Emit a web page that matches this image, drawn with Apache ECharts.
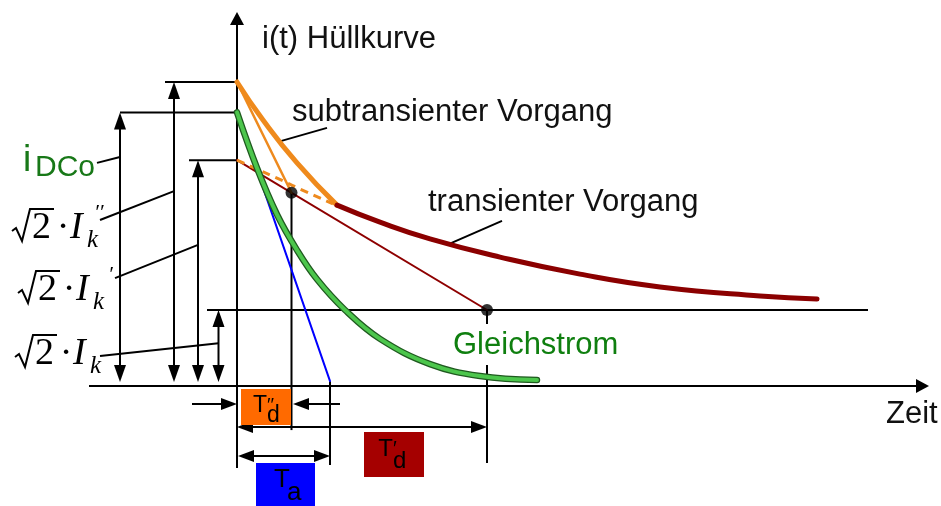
<!DOCTYPE html>
<html>
<head>
<meta charset="utf-8">
<script src="https://cdn.jsdelivr.net/npm/echarts@6/dist/echarts.min.js"></script>
<style>
  html, body { margin: 0; padding: 0; background: #fff; }
  #chart { width: 941px; height: 506px; }
</style>
</head>
<body>
<div id="chart"></div>
<script>
// Envelope of a short-circuit current: subtransient, transient and DC parts.

// ---- values (time and current in arbitrary units) ----
const levelSub = 100;     // √2·I''k
const levelDC = 90;       // iDCo
const levelTrans = 74.3;  // √2·I'k
const levelSteady = 25;   // √2·Ik

const tSub = 5.45;        // T''d
const tDC = 9.3;          // Ta
const tTrans = 25;        // T'd

// subtransient envelope until it merges into the transient one
const subT = [0, 2.6, 6.0, 10.0];
const subI = [100, 87.5, 73.4, 59.5];
// transient envelope
const transT = [10.0, 14.3, 19.3, 26.3, 34.3, 42.3, 52.3, 58.0];
const transI = [59.5, 53.9, 48.4, 42.4, 36.8, 32.6, 29.6, 28.6];
// transient envelope traced back to t = 0
const backT = [0, 4.0, 6.3, 9.6];
const backI = [74.3, 68.4, 64.8, 59.9];
// decaying DC component
const dcT = [0, 2.0, 4.0, 6.0, 8.0, 10.8, 14.3, 19.3, 24.3, 30.0];
const dcI = [90, 71.7, 56.4, 44.7, 35.1, 25.0, 15.5, 7.2, 3.3, 2.0];
const dcTangentEnd = 1.6;

// ---- texts ----
const captionTexts = ['i(t) Hüllkurve', 'subtransienter Vorgang', 'transienter Vorgang', 'Gleichstrom', 'Zeit'];
const boxMain = ['T', 'T', 'T'];
const boxSup = ['′′', '', '′'];
const boxSub = ['d', 'a', 'd'];
const mathPrimes = ['′′', '′', ''];

// ---- frame: pixel position of the origin and pixels per unit ----
const W = 941, H = 506;
const OX = 237, OY = 386, PX_T = 10, PX_I = 3.04;

// ---- diagram geometry in data units ----
const foot = 1.3;                                  // arrow tips just above the time axis
const dotI = levelTrans - (levelTrans - levelSteady) * tSub / tTrans;
const axisArrows = [[0, -27, 0, 123, 1], [-14.8, 0, 69.2, 0, 1]];
const levelArrows = [
  [-11.7, foot, -11.7, levelDC, 2],
  [-6.3, foot, -6.3, levelSub, 2],
  [-3.9, foot, -3.9, levelTrans, 2],
  [-1.85, foot, -1.85, levelSteady, 2]
];
const spanArrows = [
  [-4.5, -5.9, 0, -5.9, 1],
  [10.3, -5.9, tSub + 0.15, -5.9, 1],
  [0, -13.5, tTrans, -13.5, 2],
  [0.1, -23, tDC, -23, 2]
];
const blackLines = [
  [-7.2, levelSub, 0, levelSub],
  [-11.7, levelDC, 0, levelDC],
  [-4.8, levelTrans, 0, levelTrans],
  [-3.0, levelSteady, 63.1, levelSteady],
  [-14.0, 73.4, -11.7, 75.3],
  [-13.7, 54.6, -6.3, 64.1],
  [-12.2, 35.5, -3.9, 46.4],
  [-13.7, 9.9, -1.85, 14.1],
  [4.1, 80.3, 9.0, 84.9],
  [21.0, 46.4, 26.5, 54.3],
  [tSub, dotI, tSub, -14.5],
  [tDC, dcTangentEnd, tDC, -26],
  [tTrans, levelSteady, tTrans, 20.4],
  [tTrans, 6.9, tTrans, -25.3]
];
const boxes = [
  [0.4, -1.0, 5.4, -12.8],
  [1.9, -25.3, 7.8, -40.8],
  [12.7, -15.1, 18.7, -29.9]
];
const boxColors = ['#ff6a00', '#0000ff', '#a50000'];
// per box: font size, T right edge dx, T dy, script dx, sub dy, sup dy
const boxTextLayout = [
  [23, 1, -1.5, 1, 9, -11],
  [26, 4.5, -7, 1.5, 6, -14],
  [24, -1, -5, -1, 7, -15]
];
const captionAnchors = [[2.5, 114.1], [5.5, 90.1], [19.1, 60.5], [21.6, 13.3], [64.9, -9.2]];
const captionColors = ['#111', '#111', '#111', '#0f7f0f', '#111'];
const mathAnchors = [[-22.5, 47.7], [-21.9, 27.3], [-22.2, 6.25]];
const mathPrimeDx = [82, 90, 0];
const dcoAnchor = [[-21.4, 70.1]];

const SANS = '"Liberation Sans", Arial, Helvetica, sans-serif';
const SERIF = '"Liberation Serif", "Times New Roman", "DejaVu Serif", serif';

function zip(a, b) { return a.map((v, k) => [v, b[k]]); }

// text whose alphabetic baseline sits at y
function textAt(x, baseline, str, font, size, color, align) {
  return {
    type: 'text', x: x, y: baseline - 0.34 * size,
    style: {
      text: str, fill: color, font: font,
      align: align || 'left', verticalAlign: 'middle',
      textAlign: align || 'left', textVerticalAlign: 'middle'
    }
  };
}

function segmentSeries(data, color, width, z) {
  return {
    type: 'custom', silent: true, z: z, data: data,
    renderItem: function (params, api) {
      const p = api.coord([api.value(0), api.value(1)]);
      const q = api.coord([api.value(2), api.value(3)]);
      return {
        type: 'line',
        shape: { x1: p[0], y1: p[1], x2: q[0], y2: q[1] },
        style: { stroke: color, lineWidth: width }
      };
    }
  };
}

function arrowSeries(data, len, wid, width, z) {
  return {
    type: 'custom', silent: true, z: z, data: data,
    renderItem: function (params, api) {
      const p = api.coord([api.value(0), api.value(1)]);
      const q = api.coord([api.value(2), api.value(3)]);
      const both = api.value(4) === 2;
      const dx = q[0] - p[0], dy = q[1] - p[1];
      const L = Math.hypot(dx, dy);
      const ux = dx / L, uy = dy / L, nx = -uy, ny = ux;
      const head = function (tip, s) {
        const bx = tip[0] - s * ux * len, by = tip[1] - s * uy * len;
        return {
          type: 'polygon',
          shape: { points: [[tip[0], tip[1]], [bx + nx * wid / 2, by + ny * wid / 2], [bx - nx * wid / 2, by - ny * wid / 2]] },
          style: { fill: '#000' }
        };
      };
      const a = both ? [p[0] + ux * len * 0.7, p[1] + uy * len * 0.7] : p;
      const b = [q[0] - ux * len * 0.7, q[1] - uy * len * 0.7];
      const children = [
        { type: 'line', shape: { x1: a[0], y1: a[1], x2: b[0], y2: b[1] }, style: { stroke: '#000', lineWidth: width } },
        head(q, 1)
      ];
      if (both) children.push(head(p, -1));
      return { type: 'group', children: children };
    }
  };
}

function curveSeries(data, color, width, z, extra) {
  return Object.assign({
    type: 'line', data: data, z: z, silent: true,
    showSymbol: false, symbol: 'none',
    smooth: 0.5,
    lineStyle: { color: color, width: width, cap: 'round' }
  }, extra || {});
}

const chart = echarts.init(document.getElementById('chart'), null, { renderer: 'canvas', width: W, height: H });

chart.setOption({
  animation: false,
  backgroundColor: '#fff',
  grid: { left: 0, right: 0, top: 0, bottom: 0 },
  xAxis: { type: 'value', min: -OX / PX_T, max: (W - OX) / PX_T, show: false },
  yAxis: { type: 'value', min: -(H - OY) / PX_I, max: OY / PX_I, show: false },
  series: [
    segmentSeries(blackLines, '#000', 2, 2),
    arrowSeries(axisArrows, 13, 14, 2, 2),
    arrowSeries(levelArrows, 17, 12, 2, 2),
    arrowSeries(spanArrows, 16, 12, 2, 2),

    // DC tangent
    curveSeries([[0, levelDC], [tDC, dcTangentEnd]], '#0000ff', 2, 3, { smooth: false }),
    // straight line from √2·I'k to the steady level at T'd
    curveSeries([[0, levelTrans], [tTrans, levelSteady]], '#8e0000', 2, 3, { smooth: false }),
    // transient envelope traced back (dashed)
    curveSeries(zip(backT, backI), '#ee8a1e', 3, 3, { lineStyle: { color: '#ee8a1e', width: 3, type: [8, 6] } }),
    // DC component: dark rim, light core
    curveSeries(zip(dcT, dcI), '#1f5a1f', 6.5, 4, { smooth: 0.4 }),
    curveSeries(zip(dcT, dcI), '#4cc64c', 4, 5, { smooth: 0.4 }),
    // subtransient tangent
    curveSeries([[0, levelSub], [tSub, dotI]], '#ee8a1e', 2.5, 4, { smooth: false }),
    // subtransient and transient envelopes
    curveSeries(zip(subT, subI), '#ef8a1c', 5, 5),
    curveSeries(zip(transT, transI), '#8b0000', 5, 5),

    {
      type: 'scatter', silent: true, z: 6,
      data: [[tSub, dotI], [tTrans, levelSteady]],
      symbol: 'circle', symbolSize: 12,
      itemStyle: { color: '#000' }
    },

    // time-constant boxes
    {
      type: 'custom', silent: true, z: 6, data: boxes,
      renderItem: function (params, api) {
        const k = params.dataIndex;
        const a = api.coord([api.value(0), api.value(1)]);
        const b = api.coord([api.value(2), api.value(3)]);
        const cx = (a[0] + b[0]) / 2, cy = (a[1] + b[1]) / 2;
        const s = boxTextLayout[k];
        const size = s[0];
        const f = size + 'px ' + SANS;
        const children = [
          { type: 'rect', shape: { x: a[0], y: a[1], width: b[0] - a[0], height: b[1] - a[1] }, style: { fill: boxColors[k] } },
          { type: 'text', x: cx + s[1], y: cy + s[2], style: { text: boxMain[k], fill: '#000', font: f, align: 'right', verticalAlign: 'middle', textAlign: 'right', textVerticalAlign: 'middle' } },
          { type: 'text', x: cx + s[3], y: cy + s[4], style: { text: boxSub[k], fill: '#000', font: f, align: 'left', verticalAlign: 'middle', textAlign: 'left', textVerticalAlign: 'middle' } }
        ];
        if (boxSup[k]) {
          children.push({ type: 'text', x: cx + s[3], y: cy + s[5], style: { text: boxSup[k], fill: '#000', font: (size - 4) + 'px ' + SANS, align: 'left', verticalAlign: 'top', textAlign: 'left', textVerticalAlign: 'top' } });
        }
        return { type: 'group', children: children };
      }
    },

    // captions
    {
      type: 'custom', silent: true, z: 7, data: captionAnchors,
      renderItem: function (params, api) {
        const k = params.dataIndex;
        const p = api.coord([api.value(0), api.value(1)]);
        return {
          type: 'text', x: p[0], y: p[1],
          style: {
            text: captionTexts[k], fill: captionColors[k], font: '31px ' + SANS,
            align: 'left', verticalAlign: 'middle', textAlign: 'left', textVerticalAlign: 'middle'
          }
        };
      }
    },

    // i DCo
    {
      type: 'custom', silent: true, z: 7, data: dcoAnchor,
      renderItem: function (params, api) {
        const p = api.coord([api.value(0), api.value(1)]);
        return {
          type: 'group', children: [
            textAt(p[0], p[1], 'i', '37px ' + SANS, 37, '#187818'),
            textAt(p[0] + 12, p[1] + 5, 'DCo', '30px ' + SANS, 30, '#187818')
          ]
        };
      }
    },

    // √2 · I k labels
    {
      type: 'custom', silent: true, z: 7, data: mathAnchors,
      renderItem: function (params, api) {
        const k = params.dataIndex;
        const p = api.coord([api.value(0), api.value(1)]);
        const x = p[0], b = p[1];
        const children = [
          { type: 'polyline', shape: { points: [[x, b - 10], [x + 4, b - 13], [x + 10, b], [x + 18, b - 32], [x + 42, b - 32]] }, style: { stroke: '#000', lineWidth: 2, fill: null } },
          textAt(x + 20, b, '2', '38px ' + SERIF, 38, '#000'),
          textAt(x + 51, b, '·', '38px ' + SERIF, 38, '#000', 'center'),
          textAt(x + 58, b, 'I', 'italic 38px ' + SERIF, 38, '#000'),
          textAt(x + 75, b + 8, 'k', 'italic 25px ' + SERIF, 25, '#000')
        ];
        if (mathPrimes[k]) {
          children.push(textAt(x + mathPrimeDx[k], b - 20, mathPrimes[k], 'italic 22px ' + SERIF, 22, '#000'));
        }
        return { type: 'group', children: children };
      }
    }
  ]
});
</script>
</body>
</html>
